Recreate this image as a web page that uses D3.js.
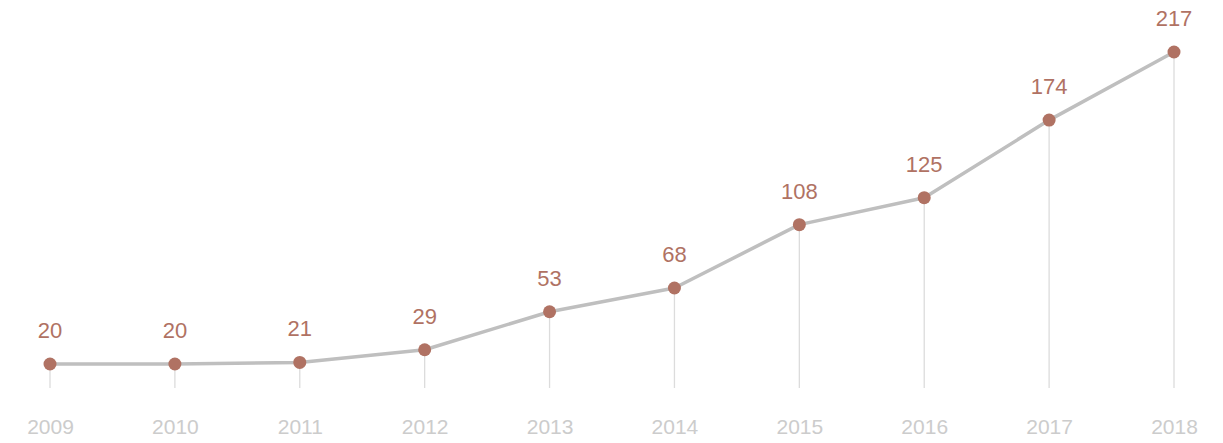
<!DOCTYPE html>
<html><head><meta charset="utf-8">
<script src="https://d3js.org/d3.v7.min.js"></script>
<style>html,body{margin:0;padding:0;background:#fff;}svg{display:block;font-family:"Liberation Sans",Arial,Helvetica,sans-serif;}</style>
</head><body>
<svg id="c" width="1223" height="443"></svg>
<script>
const years = ["2009","2010","2011","2012","2013","2014","2015","2016","2017","2018"];
const values = [20,20,21,29,53,68,108,125,174,217];

const svg = d3.select("#c");
const x = d3.scalePoint().domain(years).range([50,1174]);
const y = d3.scaleLinear().domain([0,217]).range([395.7,52]);
const data = years.map((yr,i)=>({yr, v:values[i]}));

svg.append("g").selectAll("line").data(data).join("line")
  .attr("x1",d=>x(d.yr)).attr("x2",d=>x(d.yr))
  .attr("y1",d=>y(d.v)).attr("y2",388)
  .attr("stroke","#dcdcdc").attr("stroke-width",1.3);

svg.append("path").datum(data)
  .attr("d", d3.line().x(d=>x(d.yr)).y(d=>y(d.v)))
  .attr("fill","none").attr("stroke","#bfbfbf").attr("stroke-width",3.5)
  .attr("stroke-linejoin","round");

svg.append("g").selectAll("circle").data(data).join("circle")
  .attr("cx",d=>x(d.yr)).attr("cy",d=>y(d.v)).attr("r",6.5)
  .attr("fill","#b07263");

svg.append("g").selectAll("text").data(data).join("text")
  .attr("x",d=>x(d.yr)).attr("y",d=>y(d.v)-26)
  .attr("text-anchor","middle").attr("font-size",22)
  .attr("fill","#b07263").text(d=>d.v);

const ax = d3.axisBottom(x).tickSize(0).tickPadding(0);
const g = svg.append("g").attr("transform","translate(0,434)").call(ax);
g.select(".domain").remove();
g.selectAll("text").attr("font-size",21).attr("fill","#cccccc")
  .attr("font-family","'Liberation Sans',Arial,sans-serif").attr("y",0).attr("dy","0");
</script>
</body></html>
